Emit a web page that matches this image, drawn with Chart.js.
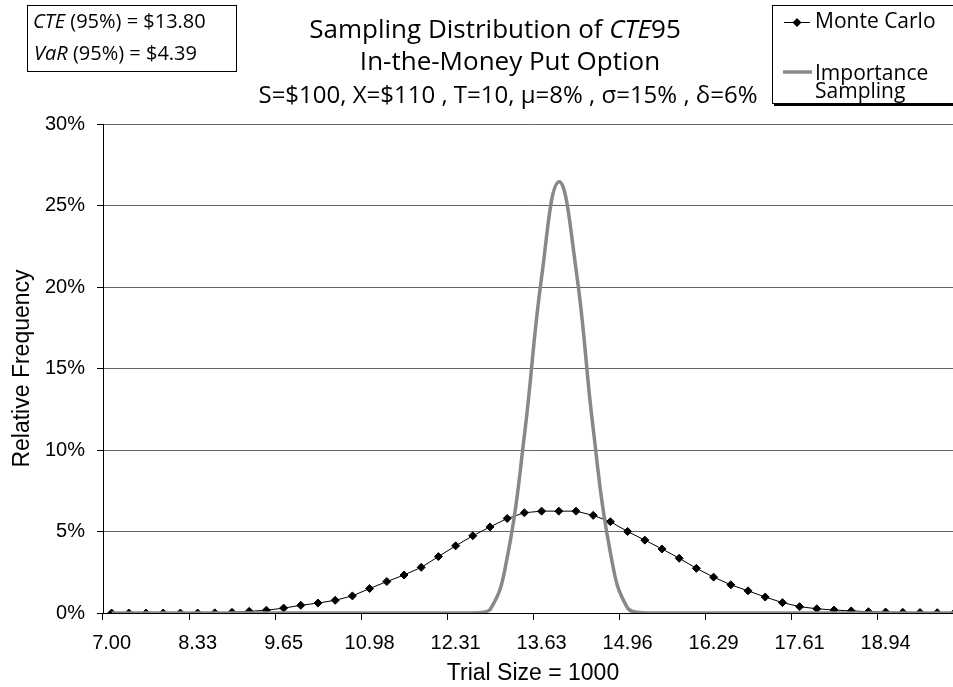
<!DOCTYPE html>
<html>
<head>
<meta charset="utf-8">
<script src="https://cdn.jsdelivr.net/npm/chart.js@4.4.0/dist/chart.umd.min.js"></script>
<style>
  html, body { margin: 0; padding: 0; overflow: hidden; background: #fff; }
  canvas { display: block; }
</style>
</head>
<body>
<canvas id="grafico" width="975" height="687"></canvas>
<script>
// intervalos del eje x (marcas de clase)
const categorias = ['7.00','7.27','7.53','7.80','8.06','8.33','8.59','8.86','9.12','9.39',
  '9.65','9.92','10.18','10.45','10.71','10.98','11.24','11.51','11.78','12.04',
  '12.31','12.57','12.84','13.10','13.37','13.63','13.90','14.16','14.43','14.69',
  '14.96','15.22','15.49','15.76','16.02','16.29','16.55','16.82','17.08','17.35',
  '17.61','17.88','18.14','18.41','18.67','18.94','19.20','19.47','19.73','20.00'];

// solo se rotula cada 5 intervalos
const cadaEtiqueta = 5;

// frecuencia relativa en %
const monteCarlo = [0, 0, 0, 0, 0, 0, 0.01, 0.04, 0.10, 0.17,
  0.30, 0.47, 0.61, 0.78, 1.05, 1.50, 1.93, 2.33, 2.80, 3.46,
  4.12, 4.74, 5.28, 5.80, 6.15, 6.25, 6.25, 6.25, 5.99, 5.60,
  5.00, 4.47, 3.93, 3.36, 2.74, 2.20, 1.73, 1.36, 0.98, 0.64,
  0.39, 0.26, 0.18, 0.13, 0.08, 0.06, 0.04, 0.03, 0.02, 0.01];

const importancia = [0, 0, 0, 0, 0, 0, 0, 0, 0, 0,
  0, 0, 0, 0, 0, 0, 0, 0, 0, 0,
  0, 0, 0.2, 3.4, 10.9, 20.6, 26.45, 21.1, 11.3, 3.7,
  0.3, 0, 0, 0, 0, 0, 0, 0, 0, 0,
  0, 0, 0, 0, 0, 0, 0, 0, 0, 0];

// eje y
const yMin = 0, yMax = 30, yPaso = 5;

const fuenteTitulo = '"Open Sans", "Noto Sans", sans-serif';
const fuenteEjes = '"Liberation Sans", Arial, sans-serif';

// escribe una linea con partes en cursiva
function linea(c, partes, x, y, size, align) {
  let ancho = 0;
  partes.forEach(p => {
    c.font = (p[1] ? 'italic ' : '') + size + 'px ' + fuenteTitulo;
    ancho += c.measureText(p[0]).width;
  });
  let xi = align === 'left' ? x : x - ancho / 2;
  partes.forEach(p => {
    c.font = (p[1] ? 'italic ' : '') + size + 'px ' + fuenteTitulo;
    c.fillText(p[0], xi, y);
    xi += c.measureText(p[0]).width;
  });
}

// titulo, recuadro de resultados y leyenda
const textos = {
  id: 'textos',
  afterDraw(chart) {
    const c = chart.ctx;
    const ds = chart.data.datasets;
    c.save();
    c.fillStyle = '#000';
    c.textBaseline = 'middle';
    c.textAlign = 'left';

    linea(c, [['Sampling Distribution of ', false], ['CTE', true], ['95', false]], 495, 31, 26);
    linea(c, [['In-the-Money Put Option', false]], 510, 63, 26);
    linea(c, [['S=$100, X=$110 , T=10, \u03bc=8% , \u03c3=15% , \u03b4=6%', false]], 508, 96, 24);

    // recuadro CTE / VaR
    c.strokeStyle = '#000';
    c.lineWidth = 1;
    c.strokeRect(27.5, 5.5, 209, 66);
    linea(c, [['CTE', true], [' (95%) = $13.80', false]], 33, 22, 20, 'left');
    linea(c, [['VaR', true], [' (95%) = $4.39', false]], 34, 54, 20, 'left');

    // leyenda
    c.strokeRect(772.5, 5.5, 300, 98);
    c.fillRect(774, 103, 300, 3);
    const mc = ds[1], is = ds[0];
    c.strokeStyle = mc.borderColor;
    c.lineWidth = mc.borderWidth;
    c.beginPath(); c.moveTo(784, 22.5); c.lineTo(810, 22.5); c.stroke();
    c.beginPath();
    c.moveTo(797, 18); c.lineTo(801.5, 22.5); c.lineTo(797, 27); c.lineTo(792.5, 22.5);
    c.closePath(); c.fill();
    c.strokeStyle = is.borderColor;
    c.lineWidth = is.borderWidth;
    c.beginPath(); c.moveTo(783, 72); c.lineTo(812, 72); c.stroke();
    c.fillStyle = '#000';
    linea(c, [['Monte Carlo', false]], 815, 22, 21, 'left');
    linea(c, [['Importance', false]], 815, 74, 21, 'left');
    linea(c, [['Sampling', false]], 815, 92, 21, 'left');
    c.restore();
  }
};

Chart.defaults.color = '#000';

new Chart(document.getElementById('grafico'), {
  type: 'line',
  data: {
    labels: categorias,
    datasets: [
      {
        label: 'Importance Sampling',
        data: importancia,
        borderColor: '#888888',
        borderWidth: 3.5,
        pointRadius: 0,
        tension: 0.45,
        order: 0
      },
      {
        label: 'Monte Carlo',
        data: monteCarlo,
        borderColor: '#000000',
        borderWidth: 1,
        pointStyle: 'rectRot',
        pointRadius: 4,
        pointBorderWidth: 1,
        pointBackgroundColor: '#000',
        pointBorderColor: '#000',
        tension: 0,
        order: 1
      }
    ]
  },
  options: {
    responsive: false,
    animation: false,
    devicePixelRatio: 1,
    layout: { padding: { top: 124, right: 12, left: 0, bottom: 0 } },
    plugins: {
      legend: { display: false },
      tooltip: { enabled: false }
    },
    scales: {
      x: {
        offset: true,
        afterFit: s => { s.height = 74; },
        border: { color: '#000', width: 1 },
        grid: {
          offset: true,
          drawOnChartArea: false,
          tickLength: 7,
          tickColor: ctx => (ctx.index % cadaEtiqueta === 0 ? '#000' : 'rgba(0,0,0,0)')
        },
        ticks: {
          autoSkip: false,
          maxRotation: 0,
          padding: 11,
          font: { family: fuenteEjes, size: 20 },
          callback: function (v, i) { return i % cadaEtiqueta === 0 ? categorias[i] : ''; }
        },
        title: {
          display: true,
          text: 'Trial Size = 1000',
          font: { family: fuenteEjes, size: 23 },
          padding: { top: 0, bottom: 0 }
        }
      },
      y: {
        min: yMin,
        max: yMax,
        afterFit: s => { s.width = 103; },
        border: { color: '#000', width: 1 },
        grid: {
          color: '#666',
          tickColor: '#000',
          tickLength: 6
        },
        ticks: {
          stepSize: yPaso,
          padding: 12,
          font: { family: fuenteEjes, size: 20 },
          callback: v => v + '%'
        },
        title: {
          display: true,
          text: 'Relative Frequency',
          font: { family: fuenteEjes, size: 23 },
          padding: { top: 9, bottom: 0 }
        }
      }
    }
  },
  plugins: [textos]
});
</script>
</body>
</html>
